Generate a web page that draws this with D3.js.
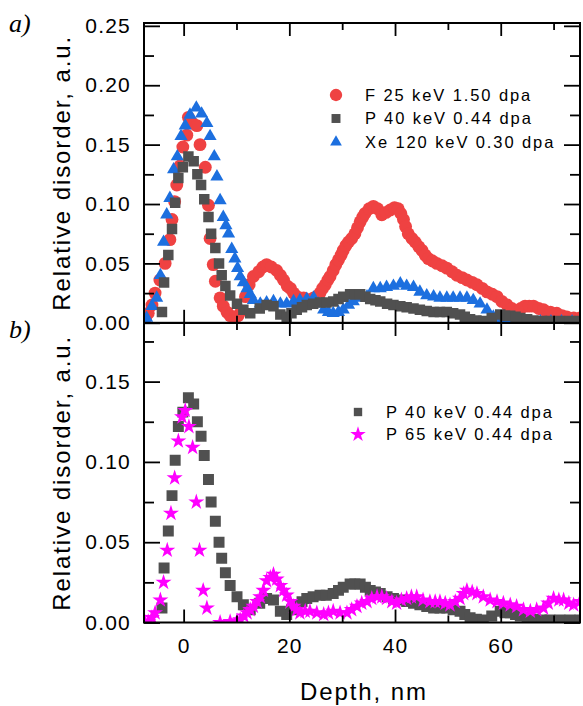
<!DOCTYPE html>
<html>
<head>
<meta charset="utf-8">
<script src="https://cdn.jsdelivr.net/npm/d3@7"></script>
<style>
body { margin: 0; background: #fff; }
text { font-family: "Liberation Sans", Arial, sans-serif; fill: #000; }
.tick text { font-size: 21px; letter-spacing: 1.2px; }
.tick line { stroke: #000; stroke-width: 1.8px; }
.panel-tag { font-family: "Liberation Serif", "Times New Roman", serif; font-style: italic; font-size: 26px; }
.title { font-size: 24px; letter-spacing: 1.9px; }
.leg { font-size: 16.5px; letter-spacing: 1.9px; }
</style>
</head>
<body>
<div id="body"></div>
<script>
// depth (nm), relative disorder (a.u.)
const fDepth = [-7.2,-6.7,-6.0,-5.4,-4.5,-3.5,-2.6,-2.2,-1.7,-1.3,-0.7,-0.15,0.6,0.9,1.7,2.5,3.1,4.1,4.7,5.0,5.6,6.0,6.9,7.5,8.2,8.8,9.7,10.3,10.9,11.7,12.4,13.2,14.2,15.0,15.7,16.6,17.6,18.3,18.9,19.6,20.2,20.8,21.4,22.0,22.7,23.5,24.6,25.2,25.8,26.3,26.8,27.3,27.7,28.3,28.8,29.3,29.8,30.2,30.7,31.2,31.8,32.4,32.9,33.4,33.9,34.3,35.1,35.9,36.7,37.5,38.3,39.1,39.9,40.6,41.1,41.6,42.0,42.5,43.2,43.8,44.5,45.1,45.7,46.3,47.1,47.9,48.9,49.8,50.8,51.7,52.7,53.6,54.6,55.5,56.5,57.4,58.4,59.3,60.2,61.2,62.1,63.0,63.8,64.6,65.4,66.2,67.2,68.1,69.4,70.6,71.6,72.5,73.8,75.0]
const fValue = [0.004,0.008,0.015,0.025,0.036,0.050,0.070,0.087,0.102,0.116,0.132,0.148,0.158,0.173,0.168,0.166,0.150,0.131,0.099,0.071,0.049,0.035,0.021,0.014,0.009,0.006,0.004,0.006,0.010,0.022,0.032,0.039,0.043,0.047,0.049,0.047,0.044,0.040,0.036,0.031,0.029,0.025,0.022,0.021,0.021,0.019,0.021,0.022,0.025,0.029,0.032,0.036,0.039,0.044,0.049,0.053,0.057,0.061,0.065,0.068,0.071,0.075,0.080,0.085,0.089,0.092,0.096,0.098,0.096,0.091,0.093,0.095,0.097,0.096,0.092,0.087,0.081,0.075,0.071,0.068,0.064,0.061,0.057,0.054,0.052,0.050,0.048,0.046,0.043,0.040,0.038,0.036,0.034,0.032,0.029,0.026,0.024,0.022,0.018,0.015,0.012,0.009,0.012,0.014,0.014,0.014,0.012,0.011,0.009,0.008,0.006,0.005,0.004,0.004]

const xeDepth = [-7.3,-7.0,-6.0,-5.1,-4.4,-3.8,-3.2,-2.6,-1.9,-1.2,-0.5,0.3,1.2,2.4,3.4,4.4,5.0,5.8,6.3,6.9,7.5,8.0,8.5,9.1,9.7,10.2,10.7,11.3,12.0,12.6,13.2,14.5,15.7,17.0,18.3,19.5,20.8,22.0,23.3,24.6,25.5,26.5,27.4,28.3,29.3,30.2,31.2,32.1,33.4,34.7,35.9,37.2,38.4,39.7,41.0,42.2,43.5,44.7,46.0,47.3,48.5,49.8,51.0,52.3,53.6,54.8,56.1,57.4,58.6,59.9,61.5,63.5,65.5,67.5,69.5,71.5,73.5,75.0]
const xeValue = [0.002,0.004,0.014,0.021,0.040,0.068,0.091,0.105,0.129,0.140,0.157,0.166,0.175,0.181,0.176,0.168,0.157,0.140,0.123,0.103,0.089,0.082,0.075,0.062,0.054,0.046,0.039,0.034,0.029,0.024,0.019,0.016,0.017,0.018,0.016,0.016,0.018,0.019,0.020,0.021,0.016,0.011,0.009,0.008,0.009,0.011,0.015,0.018,0.021,0.022,0.029,0.029,0.030,0.031,0.033,0.031,0.030,0.026,0.023,0.022,0.021,0.021,0.021,0.021,0.021,0.019,0.016,0.011,0.005,0.002,0.002,0.001,0.001,0.001,0.001,0.001,0.001,0.001]

const p40Depth = [-4.1,-3.7,-2.9,-2.2,-1.6,-1.0,-0.15,0.9,1.9,2.6,3.3,3.9,4.7,5.2,6.0,6.7,7.2,7.9,8.8,10.1,11.3,12.6,14.4,15.7,17.0,18.3,19.5,20.4,21.4,22.4,23.3,24.5,25.8,27.0,28.3,29.3,30.2,31.5,32.4,33.4,34.4,35.3,36.3,37.2,38.5,39.7,41.0,42.2,43.5,44.7,46.0,47.3,48.5,49.8,51.0,52.3,53.2,54.2,55.4,56.7,58.3,59.9,60.8,61.8,62.8,63.7,65.0,66.2,67.8,69.3,71.2,73.1,75.0]
const p40Value = [0.009,0.034,0.057,0.079,0.101,0.122,0.131,0.140,0.136,0.125,0.116,0.104,0.089,0.075,0.063,0.050,0.040,0.031,0.023,0.016,0.011,0.008,0.012,0.015,0.014,0.007,0.005,0.008,0.011,0.013,0.015,0.016,0.017,0.017,0.018,0.020,0.022,0.024,0.024,0.024,0.022,0.020,0.019,0.018,0.016,0.015,0.014,0.013,0.012,0.011,0.010,0.009,0.009,0.009,0.008,0.007,0.005,0.003,0.002,0.0016,0.004,0.007,0.006,0.006,0.005,0.004,0.003,0.002,0.0016,0.0016,0.0016,0.0016,0.0016]

const p65Depth = [-7.3,-6.7,-6.0,-5.4,-4.4,-3.8,-3.1,-2.4,-1.7,-1.0,-0.3,0.3,1.0,1.7,2.4,3.0,3.7,4.4,6.9,8.8,10.1,10.7,11.4,12.0,12.6,13.2,13.9,14.5,15.1,15.7,16.4,17.0,17.6,18.3,18.9,19.5,20.2,20.8,21.4,22.0,23.0,23.9,25.2,26.5,27.4,28.3,29.6,30.9,31.8,32.8,33.7,34.7,35.6,36.6,37.5,38.4,39.4,40.3,41.2,42.2,43.1,44.1,45.3,46.6,47.6,48.5,49.5,50.4,51.4,52.3,53.0,53.6,54.6,55.5,56.7,58.0,59.3,60.5,61.8,63.0,64.3,65.6,66.8,68.1,69.0,70.0,71.0,71.9,72.9,73.8,75.0]
const p65Value = [0.000,0.0005,0.003,0.006,0.014,0.025,0.045,0.068,0.090,0.113,0.128,0.132,0.122,0.109,0.075,0.045,0.020,0.009,0.000,0.0005,0.001,0.0016,0.004,0.006,0.008,0.010,0.013,0.016,0.020,0.026,0.028,0.030,0.027,0.023,0.020,0.017,0.013,0.010,0.008,0.006,0.007,0.007,0.006,0.005,0.006,0.007,0.006,0.006,0.008,0.010,0.012,0.013,0.015,0.016,0.016,0.015,0.013,0.012,0.014,0.015,0.016,0.016,0.014,0.013,0.013,0.013,0.012,0.011,0.013,0.015,0.018,0.020,0.019,0.018,0.016,0.014,0.013,0.012,0.011,0.010,0.008,0.007,0.008,0.009,0.012,0.015,0.014,0.014,0.012,0.011,0.013]

const topLegend = ['F 25 keV 1.50 dpa', 'P 40 keV 0.44 dpa', 'Xe 120 keV 0.30 dpa']
const botLegend = ['P 40 keV 0.44 dpa', 'P 65 keV 0.44 dpa']
const xMajor = [0, 20, 40, 60], xMinor = [10, 30, 50, 70]
const yTopMajor = [0, 0.05, 0.10, 0.15, 0.20, 0.25], yTopMinor = [0.025, 0.075, 0.125, 0.175, 0.225]
const yBotMajor = [0, 0.05, 0.10, 0.15], yBotMinor = [0.025, 0.075, 0.125, 0.175]

const colors = { f: '#ef4242', p40: '#505050', xe: '#1c6fdf', p65: '#ff00ff' }
const zip = (a, b) => a.map((d, i) => [d, b[i]])

let W = 583, H = 706
let L = 144, R = 580
let svg = d3.select('#body').append('svg').attr('width', W).attr('height', H)
svg.append('rect').attr('width', W).attr('height', H).attr('fill', '#fff')

let x = d3.scaleLinear().domain([-7.5, 75]).range([L, R])
let yTop = d3.scaleLinear().domain([0, 0.2524]).range([322.8, 23])
let yBot = d3.scaleLinear().domain([0, 0.1865]).range([622.5, 323])

const fmt = d3.format('.2f')

function panel(id, y, major, minor, showX) {
  let [b, t] = y.range()
  let g = svg.append('g')
  g.append('clipPath').attr('id', id).append('rect')
    .attr('x', L).attr('y', t).attr('width', R - L).attr('height', b - t)
  let marks = g.append('g').attr('clip-path', `url(#${id})`)
  // axes, ticks pointing inward on all four sides
  const ax = (gen, tr) => g.append('g').attr('transform', tr).call(gen).call(s => s.select('.domain').remove())
  ax(d3.axisLeft(y).tickValues(major).tickSizeInner(-16).tickSizeOuter(0).tickPadding(13).tickFormat(fmt), `translate(${L},0)`)
  ax(d3.axisLeft(y).tickValues(minor).tickSizeInner(-10).tickSizeOuter(0).tickFormat(''), `translate(${L},0)`)
  ax(d3.axisRight(y).tickValues(major).tickSizeInner(-16).tickSizeOuter(0).tickFormat(''), `translate(${R},0)`)
  ax(d3.axisRight(y).tickValues(minor).tickSizeInner(-10).tickSizeOuter(0).tickFormat(''), `translate(${R},0)`)
  ax(d3.axisBottom(x).tickValues(xMajor).tickSizeInner(-13).tickSizeOuter(0).tickPadding(16).tickFormat(showX ? d3.format('d') : ''), `translate(0,${b})`)
  ax(d3.axisBottom(x).tickValues(xMinor).tickSizeInner(-7).tickSizeOuter(0).tickFormat(''), `translate(0,${b})`)
  ax(d3.axisTop(x).tickValues(xMajor).tickSizeInner(-13).tickSizeOuter(0).tickFormat(''), `translate(0,${t})`)
  ax(d3.axisTop(x).tickValues(xMinor).tickSizeInner(-7).tickSizeOuter(0).tickFormat(''), `translate(0,${t})`)
  g.append('rect').attr('x', L).attr('y', t).attr('width', R - L).attr('height', b - t)
    .attr('fill', 'none').attr('stroke', '#000').attr('stroke-width', 2)
  svg.append('text').attr('class', 'title')
    .attr('transform', `translate(70,${(b + t) / 2}) rotate(-90)`)
    .attr('text-anchor', 'middle').text('Relative disorder, a.u.')
  return marks
}

function scatter(g, data, y, type, size, color) {
  g.append('g').selectAll('path').data(data).join('path')
    .attr('transform', d => `translate(${x(d[0])},${y(d[1])})`)
    .attr('d', d3.symbol().type(type).size(size))
    .attr('fill', color)
}

// a) panel
let panelA = panel('clipA', yTop, yTopMajor, yTopMinor, false)
scatter(panelA, zip(fDepth, fValue), yTop, d3.symbolCircle, 130, colors.f)
scatter(panelA, zip(xeDepth, xeValue), yTop, d3.symbolTriangle, 75, colors.xe)
scatter(panelA, zip(p40Depth, p40Value), yTop, d3.symbolSquare, 110, colors.p40)

// b) panel
let panelB = panel('clipB', yBot, yBotMajor, yBotMinor, true)
scatter(panelB, zip(p40Depth, p40Value), yBot, d3.symbolSquare, 120, colors.p40)
scatter(panelB, zip(p65Depth, p65Value), yBot, d3.symbolStar, 80, colors.p65)

// legends
let legA = [[d3.symbolCircle, 120, colors.f], [d3.symbolSquare, 80, colors.p40], [d3.symbolTriangle, 60, colors.xe]]
topLegend.forEach((t, i) => {
  let yy = 95 + i * 23.5
  svg.append('path').attr('transform', `translate(336,${yy})`)
    .attr('d', d3.symbol().type(legA[i][0]).size(legA[i][1])).attr('fill', legA[i][2])
  svg.append('text').attr('class', 'leg').attr('x', 365).attr('y', yy).attr('dy', '0.36em').text(t)
})
let legB = [[d3.symbolSquare, 70, colors.p40], [d3.symbolStar, 75, colors.p65]]
botLegend.forEach((t, i) => {
  let yy = 412 + i * 22.5
  svg.append('path').attr('transform', `translate(358,${yy})`)
    .attr('d', d3.symbol().type(legB[i][0]).size(legB[i][1])).attr('fill', legB[i][2])
  svg.append('text').attr('class', 'leg').attr('x', 386).attr('y', yy).attr('dy', '0.36em').text(t)
})

svg.append('text').attr('class', 'title').attr('x', (L + R) / 2 + 2).attr('y', 700)
  .attr('text-anchor', 'middle').text('Depth, nm')
svg.append('text').attr('class', 'panel-tag').attr('x', 9).attr('y', 32).text('a)')
svg.append('text').attr('class', 'panel-tag').attr('x', 9).attr('y', 338).text('b)')
</script>
</body>
</html>
